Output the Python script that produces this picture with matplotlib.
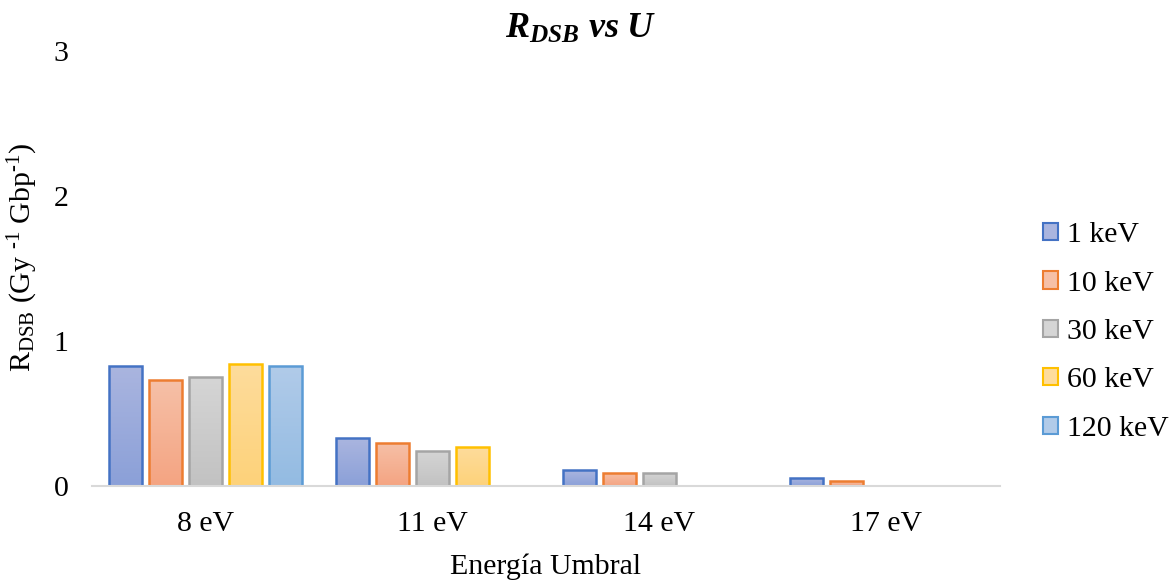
import numpy as np
import matplotlib
matplotlib.use("Agg")
import matplotlib.pyplot as plt
from matplotlib.colors import LinearSegmentedColormap
from matplotlib.patches import Patch

# R_DSB per threshold energy, one series per electron energy
categories = ["8 eV", "11 eV", "14 eV", "17 eV"]
series = ["1 keV", "10 keV", "30 keV", "60 keV", "120 keV"]
r_1kev = [0.83, 0.328, 0.11, 0.052]
r_10kev = [0.73, 0.30, 0.09, 0.032]
r_30kev = [0.75, 0.243, 0.09, np.nan]
r_60kev = [0.843, 0.269, np.nan, np.nan]
r_120kev = [0.83, np.nan, np.nan, np.nan]
values = [r_1kev, r_10kev, r_30kev, r_60kev, r_120kev]

# edge colour, gradient top, gradient bottom
edges = ["#4472C4", "#ED7D31", "#A5A5A5", "#FFC000", "#5B9BD5"]
tops = ["#AAB5DF", "#F6C0A7", "#D5D5D5", "#FEDC9C", "#B1CBE9"]
bottoms = ["#8BA0D8", "#F4A482", "#C2C2C2", "#FDD27A", "#93BBE2"]

plt.rcParams["font.family"] = ["Liberation Serif", "DejaVu Serif"]
plt.rcParams["mathtext.fontset"] = "custom"
plt.rcParams["mathtext.rm"] = "Liberation Serif"
plt.rcParams["mathtext.it"] = "Liberation Serif:italic"
plt.rcParams["mathtext.bf"] = "Liberation Serif:bold"
plt.rcParams["mathtext.bfit"] = "Liberation Serif:italic:bold"

fig = plt.figure(figsize=(11.69, 5.82), dpi=100)
ax = fig.add_axes([92 / 1169, 96 / 582, 908 / 1169, 435 / 582])

x = np.arange(len(categories))
step = 0.1762
width = 0.146
grad = np.linspace(0, 1, 64).reshape(-1, 1)

for j, (name, vals) in enumerate(zip(series, values)):
    cmap = LinearSegmentedColormap.from_list(name, [bottoms[j], tops[j]])
    pos = x + (j - 2) * step
    bars = ax.bar(pos, vals, width, facecolor="none", edgecolor=edges[j],
                  linewidth=1.8, zorder=3)
    for b in bars:
        h = b.get_height()
        if not np.isfinite(h) or h <= 0:
            continue
        x0 = b.get_x()
        im = ax.imshow(grad, cmap=cmap, origin="lower", aspect="auto",
                       extent=[x0, x0 + width, 0, h], zorder=2)
        im.set_clip_path(b)

ax.set_xlim(-0.5, 3.5)
ax.set_ylim(0, 3)
ax.set_yticks([0, 1, 2, 3])
ax.set_xticks(x)
ax.set_xticklabels(categories)
ax.tick_params(axis="both", length=0, labelsize=21.5, colors="black")
ax.tick_params(axis="x", pad=18)
ax.tick_params(axis="y", pad=17)

for s in ["top", "right", "left"]:
    ax.spines[s].set_visible(False)
ax.spines["bottom"].set_color("#D9D9D9")
ax.spines["bottom"].set_linewidth(1.5)
ax.spines["bottom"].set_zorder(4)

ax.set_xlabel("Energía Umbral", fontsize=21.5, labelpad=12)
ax.set_ylabel("R$_{\\mathrm{DSB}}$ (Gy $^{\\mathrm{\u20101}}$ Gbp$^{\\mathrm{\u20101}}$)",
              fontsize=21.5)
ax.yaxis.set_label_coords(-0.057, 0.525)
fig.text(581 / 1169, 1 - 29 / 582, r"$\mathbfit{R_{DSB}\ vs\ U}$",
         fontsize=26, ha="center", va="center")

handles = [Patch(facecolor=tops[j], edgecolor=edges[j], linewidth=1.5)
           for j in range(len(series))]
fig.legend(handles, series, loc="center left",
           bbox_to_anchor=(1031 / 1169, 1 - 332 / 582), frameon=False,
           fontsize=21.5, handlelength=0.5, handleheight=0.5,
           handletextpad=0.3, labelspacing=0.75, borderaxespad=0)

fig.savefig("out.png", dpi=100)
